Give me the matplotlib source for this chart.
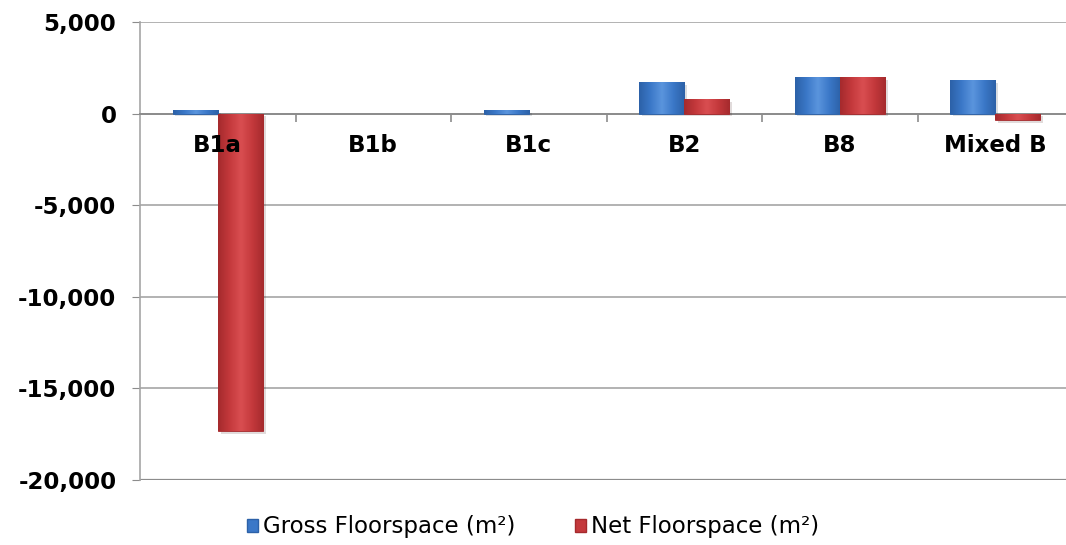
import numpy as np
import matplotlib
matplotlib.use("Agg")
import matplotlib.pyplot as plt
from matplotlib.patches import Patch
from matplotlib.colors import LinearSegmentedColormap
from matplotlib import patheffects as pe
from matplotlib.ticker import FuncFormatter

categories = ["B1a", "B1b", "B1c", "B2", "B8", "Mixed B"]
gross = [200, 0, 200, 1730, 2000, 1820]
net = [-17320, 0, 0, 780, 2000, -370]
series_names = ["Gross Floorspace (m\u00b2)", "Net Floorspace (m\u00b2)"]

blue_dark, blue_mid, blue_light = "#2C61A8", "#3B78C8", "#5B95DD"
red_dark, red_mid, red_light = "#A52A2D", "#C4393C", "#D94E51"

plt.rcParams["font.family"] = ["DejaVu Sans"]

fig = plt.figure(figsize=(10.66, 5.45), dpi=100)
ax = fig.add_axes([140 / 1066, 65 / 545, 933 / 1066, 458 / 545])

x = np.arange(len(categories))
w = 0.29

ax.set_xlim(-0.5, len(categories) - 0.5)
ax.set_ylim(-20000, 5000)
ax.set_yticks(np.arange(-20000, 5001, 5000))
ax.yaxis.set_major_formatter(FuncFormatter(lambda v, _: f"{int(v):,}"))
ax.tick_params(axis="y", labelsize=16.5, length=6, color="#8C8C8C", pad=11)
for lab in ax.get_yticklabels():
    lab.set_fontweight("bold")

ax.grid(axis="y", color="#A6A6A6", linewidth=1.2)
ax.set_axisbelow(True)

for s in ["top", "right"]:
    ax.spines[s].set_visible(False)
ax.spines["left"].set_color("#A6A6A6")
ax.spines["left"].set_linewidth(1.2)
ax.spines["bottom"].set_position(("data", 0))
ax.spines["bottom"].set_color("#8C8C8C")
ax.spines["bottom"].set_linewidth(1.4)

ax.set_xticks(x)
ax.set_xticklabels([])
ax.tick_params(axis="x", which="major", length=0)
ax.set_xticks(x[:-1] + 0.5, minor=True)
ax.tick_params(axis="x", which="minor", length=6, width=1.2, color="#8C8C8C",
               direction="out")

# bottom frame with a soft drop shadow
ax.axhline(-20000, color="#8C8C8C", linewidth=1.6, zorder=2,
           path_effects=[pe.SimpleLineShadow(offset=(2, -3), alpha=0.2,
                                             shadow_color="#555555"),
                         pe.Normal()])


def shaded_bars(xpos, vals, cdark, cmid, clight):
    cmap = LinearSegmentedColormap.from_list(
        "g", [cdark, cmid, clight, cmid, cdark])
    grad = np.linspace(0, 1, 64).reshape(1, -1)
    bars = ax.bar(xpos, vals, width=w, color=cmid, edgecolor=cdark,
                  linewidth=0.6, zorder=3,
                  path_effects=[pe.SimplePatchShadow(offset=(2, -2),
                                                     alpha=0.15),
                                pe.Normal()])
    for b, v in zip(bars, vals):
        if v == 0:
            b.set_visible(False)
            continue
        x0 = b.get_x()
        x1 = x0 + b.get_width()
        y0, y1 = sorted([0, v])
        im = ax.imshow(grad, cmap=cmap, extent=[x0, x1, y0, y1],
                       aspect="auto", zorder=3.5, interpolation="bicubic")
        im.set_clip_path(b)
    return bars


shaded_bars(x - w / 2, gross, blue_dark, blue_mid, blue_light)
shaded_bars(x + w / 2, net, red_dark, red_mid, red_light)
ax.set_xlim(-0.5, len(categories) - 0.5)
ax.set_ylim(-20000, 5000)

for xi, c in zip(x, categories):
    ax.annotate(c, (xi, 0), xytext=(0, -15), textcoords="offset points",
                ha="center", va="top", fontsize=16.5, fontweight="bold",
                zorder=10)

handles = [Patch(facecolor=blue_mid, edgecolor=blue_dark),
           Patch(facecolor=red_mid, edgecolor=red_dark)]
fig.legend(handles, series_names, loc="center",
           bbox_to_anchor=(0.5, 1 - 527 / 545), bbox_transform=fig.transFigure,
           ncol=2, frameon=False, fontsize=16.5,
           handlelength=0.5, handleheight=0.5, handletextpad=0.2,
           columnspacing=2.6)

fig.savefig("out.png", dpi=100)
